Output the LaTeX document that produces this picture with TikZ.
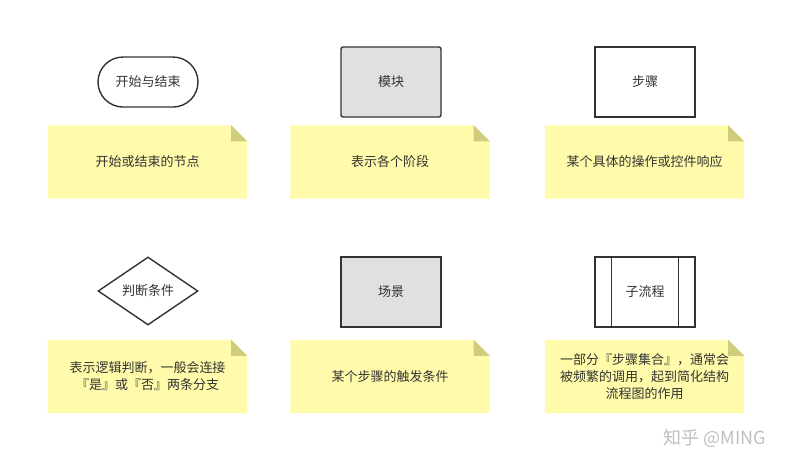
\documentclass[tikz,border=0pt]{standalone}
\usepackage{fontspec}
\setmainfont{Noto Sans CJK SC}
\usetikzlibrary{backgrounds,shapes.geometric}
\definecolor{notefill}{HTML}{FFFBAA}
\definecolor{foldfill}{HTML}{CFCC7C}
\definecolor{ink}{HTML}{333333}
\definecolor{boxgray}{HTML}{E0E0E0}
\tikzset{
  shapeline/.style={draw=ink, line width=1.4pt, text=ink, font=\fontsize{13}{16}\selectfont},
  notebox/.style={minimum width=199pt, minimum height=73pt, inner sep=0pt, text=ink,
    align=center, font=\fontsize{13}{17}\selectfont},
}
\newcommand\notefold[1]{%
  \begin{scope}[on background layer]
  \fill[notefill] (#1.south west) -- (#1.north west) -- ([xshift=-16pt]#1.north east)
     -- ([yshift=-16pt]#1.north east) -- (#1.south east) -- cycle;
  \fill[foldfill] ([xshift=-16pt]#1.north east) -- ([yshift=-16pt]#1.north east)
     -- ([xshift=-16pt,yshift=-16pt]#1.north east) -- cycle;
  \end{scope}}
\begin{document}
\begin{tikzpicture}[x=1pt,y=-1pt]
\begin{scope}[on background layer]
\fill[white] (0,0) rectangle (806,475);
\end{scope}
\useasboundingbox (0,0) rectangle (806,475);
% row 1 shapes
\node[shapeline, minimum width=100pt, minimum height=50pt, rounded corners=25pt] (start) at (148,82) {开始与结束};
\node[shapeline, fill=boxgray, minimum width=100pt, minimum height=70pt, rounded corners=2pt] (module) at (391,82) {模块};
\node[shapeline, minimum width=100pt, minimum height=70pt] (step) at (645,82) {步骤};
% row 2 shapes
\node[shapeline, diamond, minimum width=100pt, minimum height=68pt, aspect=1.47, inner sep=0pt] (judge) at (148,291) {判断条件};
\node[shapeline, fill=boxgray, minimum width=100pt, minimum height=70pt] (scene) at (391,292) {场景};
\node[shapeline, minimum width=100pt, minimum height=70pt] (sub) at (645,292) {子流程};
\draw[ink, line width=1.4pt] ([xshift=17pt]sub.north west) -- ([xshift=17pt]sub.south west);
\draw[ink, line width=1.4pt] ([xshift=-17pt]sub.north east) -- ([xshift=-17pt]sub.south east);
% notes
\node[notebox] (n1) at (147.5,162) {开始或结束的节点};
\node[notebox] (n2) at (390,162) {表示各个阶段};
\node[notebox] (n3) at (644.5,162) {某个具体的操作或控件响应};
\node[notebox] (n4) at (147.5,376.5) {表示逻辑判断，一般会连接\\『是』或『否』两条分支};
\node[notebox] (n5) at (390,376.5) {某个步骤的触发条件};
\node[notebox] (n6) at (644.5,376.5) {一部分『步骤集合』，通常会\\被频繁的调用，起到简化结构\\流程图的作用};
\notefold{n1}\notefold{n2}\notefold{n3}\notefold{n4}\notefold{n5}\notefold{n6}
% watermark
\node[text=black!25, font=\fontsize{18}{20}\selectfont, inner sep=0pt] (wm) at (715,438) {知乎 @MING};
\end{tikzpicture}
\end{document}
